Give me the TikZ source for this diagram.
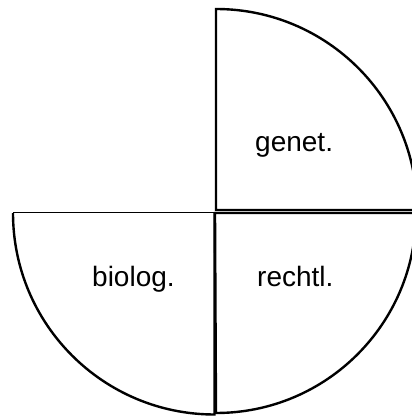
\documentclass[tikz,border=0pt]{standalone}
\usepackage{fontspec}
\setmainfont{Liberation Sans}
\begin{document}
\begin{tikzpicture}[x=1pt,y=1pt,
  sector/.style={draw=black,line width=2.4pt,line join=miter},
  thinedge/.style={draw=black,line width=1pt},
  lbl/.style={font=\fontsize{28}{30}\selectfont,anchor=base west,inner sep=0pt}]
\useasboundingbox (0,0) rectangle (412,416);
% centres
\coordinate (cg) at (216,206);
\coordinate (cr) at (215,203);
\coordinate (cb) at (214.5,203);
% genet. sector (upper right)
\draw[sector] (cg) -- (216,407) arc[start angle=90,end angle=0,radius=201] -- cycle;
% rechtl. sector (lower right)
\draw[sector] (cr) -- (416,203) arc[start angle=0,end angle=-90,radius=200] -- cycle;
% biolog. sector (lower left)
\draw[thinedge] (cb) -- (13,203);
\draw[sector] (13,203) arc[start angle=180,end angle=270,radius=201.5] -- (cb);
% labels
\node[lbl] (genet) at (255,264) {genet.};
\node[lbl] (biolog) at (92,129) {biolog.};
\node[lbl] (rechtl) at (257,129) {rechtl.};
\end{tikzpicture}
\end{document}
